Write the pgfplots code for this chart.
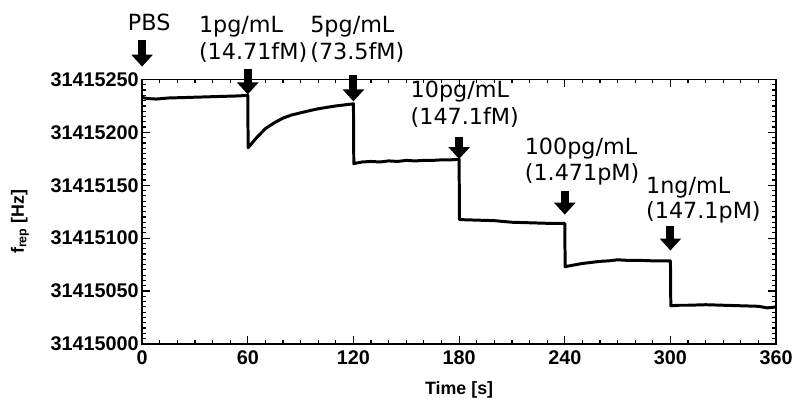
\documentclass[border=0pt]{standalone}
\usepackage{fontspec}
\setmainfont{Liberation Sans}
\newfontfamily\annfont{DejaVu Sans}
\usepackage{pgfplots}
\pgfplotsset{compat=1.18}
\usetikzlibrary{arrows.meta}
\tikzset{
  arr/.style={line width=8bp, -{Triangle[width=21bp,length=12bp]}},
  lbl/.style={font=\annfont\fontsize{22.5}{22.5}\selectfont, inner sep=0pt, anchor=base west},
}

% f_rep is stored as an offset from 31415000 Hz (the FPU cannot hold 9 digits)
\begin{document}
\begin{tikzpicture}
\begin{axis}[
  scale only axis, width=638bp, height=266bp,
  xmin=0, xmax=360, ymin=0, ymax=250,
  xtick={0,60,...,360}, minor x tick num=5,
  ytick={0,50,...,250}, minor y tick num=9,
  yticklabels={31415000,31415050,31415100,31415150,31415200,31415250},
  tick align=inside, major tick length=8bp, minor tick length=4bp,
  every tick/.style={black, line width=1.2bp},
  axis line style={line width=1.8bp},
  /pgf/number format/assume math mode=true,
  tick label style={font=\bfseries\fontsize{20}{20}\selectfont},
  xticklabel style={yshift=-3bp},
  xlabel={Time [s]},
  ylabel={f\textsubscript{rep} [Hz]},
  every axis x label/.style={at={(axis description cs:0.5,0)}, yshift=-46bp, anchor=center,
    font=\bfseries\fontsize{18}{18}\selectfont},
  every axis y label/.style={at={(axis description cs:0,0.5)}, xshift=-123bp, yshift=-10bp, rotate=90, anchor=center,
    font=\bfseries\fontsize{18}{18}\selectfont},
  clip=false,
]
\addplot[black, line width=3bp, line join=round] coordinates {
  (0,233) (3,232) (8,231.5) (15,232.5) (25,233) (35,233.5) (45,234) (55,234.5) (60,235)
  (60.2,185.5) (62,189) (65,195) (70,203.5) (75,209) (80,213.5) (85,216.5) (90,218.5)
  (95,220.5) (100,222.3) (105,223.7) (110,225) (115,226) (120,227)
  (120.2,170.5) (125,172) (130,172.5) (135,172) (140,173) (145,172.5) (150,173.5)
  (155,173) (160,173.5) (165,173.5) (170,174) (175,174) (180,174.5)
  (180.2,117.5) (190,117) (200,116.5) (210,115) (220,114.5) (230,114) (240,114)
  (240.2,73) (245,74.5) (250,76) (255,77) (260,78) (265,78.5) (270,79.5) (275,79)
  (280,79) (285,78.8) (290,78.5) (300,78.5)
  (300.2,36) (305,36.5) (310,36.5) (320,37) (330,36.5) (340,36) (350,35.5) (355,34)
  (358,34.5) (360,35)
};
% arrows
\draw[arr] (axis cs:0,287.6) -- (axis cs:0,262.2);
\draw[arr] (axis cs:60,260.3) -- (axis cs:60,235.9);
\draw[arr] (axis cs:120,253.8) -- (axis cs:120,229.3);
\draw[arr] (axis cs:180,195.5) -- (axis cs:180,174.8);
\draw[arr] (axis cs:240,144.7) -- (axis cs:240,122.2);
\draw[arr] (axis cs:300,111.8) -- (axis cs:300,88.3);
% labels
\node[lbl, anchor=base] at (axis cs:4,296) {PBS};
\node[lbl] at (axis cs:32.2,294.2) {1pg/mL};
\node[lbl] at (axis cs:32.2,268.8) {(14.71fM)};
\node[lbl] at (axis cs:95.4,294.2) {5pg/mL};
\node[lbl] at (axis cs:95.4,268.8) {(73.5fM)};
\node[lbl] at (axis cs:152.4,233.1) {10pg/mL};
\node[lbl] at (axis cs:152.4,207.7) {(147.1fM)};
\node[lbl] at (axis cs:217.2,179.5) {100pg/mL};
\node[lbl] at (axis cs:217.2,154.1) {(1.471pM)};
\node[lbl] at (axis cs:286.1,141.9) {1ng/mL};
\node[lbl] at (axis cs:286.1,118.4) {(147.1pM)};
\end{axis}
\pgfresetboundingbox
\path[use as bounding box] (-143bp,-55bp) rectangle (658bp,346bp);
\end{tikzpicture}
\end{document}
